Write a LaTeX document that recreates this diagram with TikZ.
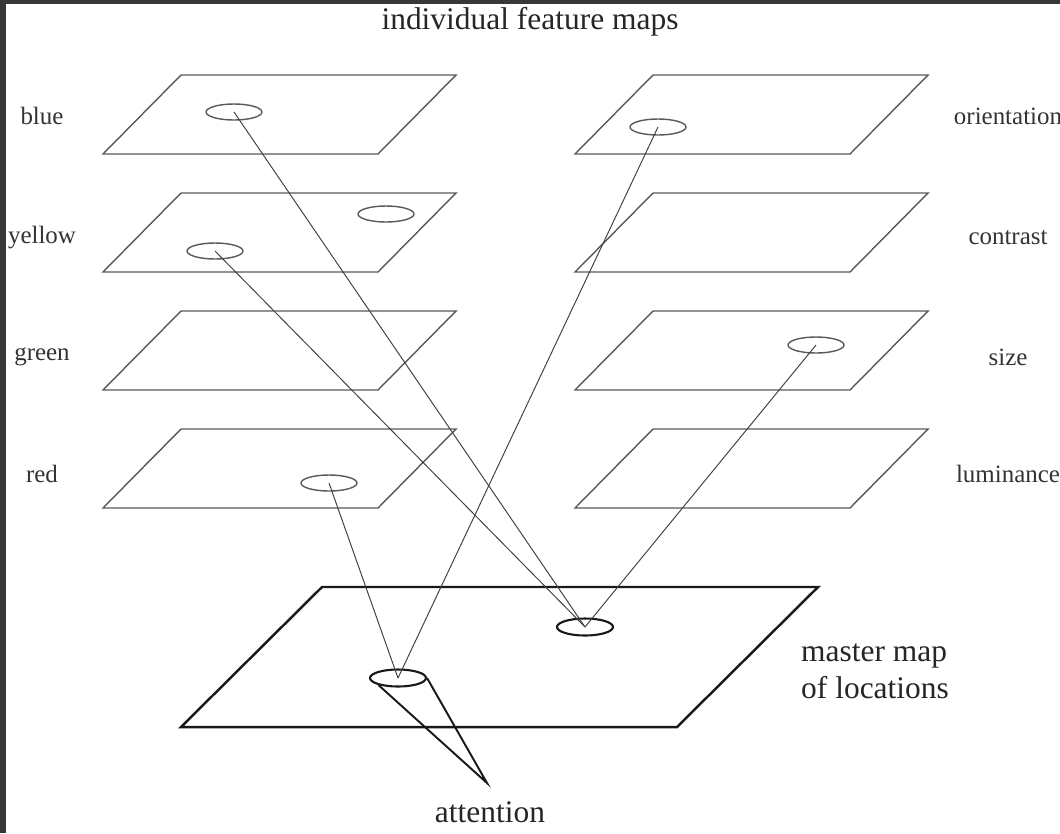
\documentclass[tikz,border=0pt]{standalone}
\usepackage{fontspec}
\setmainfont{Liberation Serif}
\usetikzlibrary{shapes.geometric}

\tikzset{
  fmap/.style={draw=black!65, line width=0.8pt, line join=miter},
  mmap/.style={draw=black!90, line width=1.4pt, line join=miter},
  spot/.style={ellipse, draw=black!65, line width=0.8pt, minimum width=1.12cm, minimum height=0.32cm, inner sep=0pt},
  mspot/.style={ellipse, draw=black!90, line width=1.2pt, minimum width=1.12cm, minimum height=0.34cm, inner sep=0pt},
  link/.style={draw=black!75, line width=0.55pt},
  cone/.style={draw=black!90, line width=1.1pt, line join=miter},
  lab/.style={text=black!80, font=\fontsize{14.2}{17}\selectfont},
  biglab/.style={text=black!85, font=\fontsize{17.9}{21}\selectfont}
}

\begin{document}
\begin{tikzpicture}[x=0.02cm, y=-0.02cm]
  \useasboundingbox (0,0) rectangle (1060,833);
  % frame
  \fill[black!78] (0,0) rectangle (6,833);
  \fill[black!78] (0,0) rectangle (1060,4);

  % feature maps
  \foreach \y in {75,193,311,429} {
    \draw[fmap] (181,\y) -- (456,\y) -- (378,\y+79) -- (103,\y+79) -- cycle;
    \draw[fmap] (653,\y) -- (928,\y) -- (850,\y+79) -- (575,\y+79) -- cycle;
  }
  % master map
  \draw[mmap] (322,587) -- (818,587) -- (677,727) -- (181,727) -- cycle;

  % spots
  \node[spot] (bluespot) at (234,112) {};
  \node[spot] (yellowspota) at (386,214) {};
  \node[spot] (yellowspotb) at (215,251) {};
  \node[spot] (redspot) at (329,483) {};
  \node[spot] (orientspot) at (658,127) {};
  \node[spot] (sizespot) at (816,345) {};
  \node[mspot] (masterspot) at (585,627) {};
  \node[mspot] (attspot) at (398,678) {};
  \coordinate (tip) at (487,783);

  % links
  \draw[link] (bluespot.center) -- (masterspot.center);
  \draw[link] (yellowspotb.center) -- (masterspot.center);
  \draw[link] (sizespot.center) -- (masterspot.center);
  \draw[link] (redspot.center) -- (attspot.center);
  \draw[link] (orientspot.center) -- (attspot.center);
  \draw[cone] (attspot.200) -- (tip) -- (attspot.east);

  % labels
  \node[biglab] (title) at (530,22) {individual feature maps};
  \node[lab] (blue) at (42,116) {blue};
  \node[lab] (yellow) at (42,238) {yellow};
  \node[lab] (green) at (42,357) {green};
  \node[lab] (red) at (42,474) {red};
  \node[lab] (orientation) at (1008,116) {orientation};
  \node[lab] (contrast) at (1008,238) {contrast};
  \node[lab] (size) at (1008,357) {size};
  \node[lab] (luminance) at (1008,474) {luminance};
  \node[biglab, anchor=west, align=left] (master) at (795,671) {master map\\of locations};
  \node[biglab] (attention) at (490,812) {attention};
\end{tikzpicture}
\end{document}
